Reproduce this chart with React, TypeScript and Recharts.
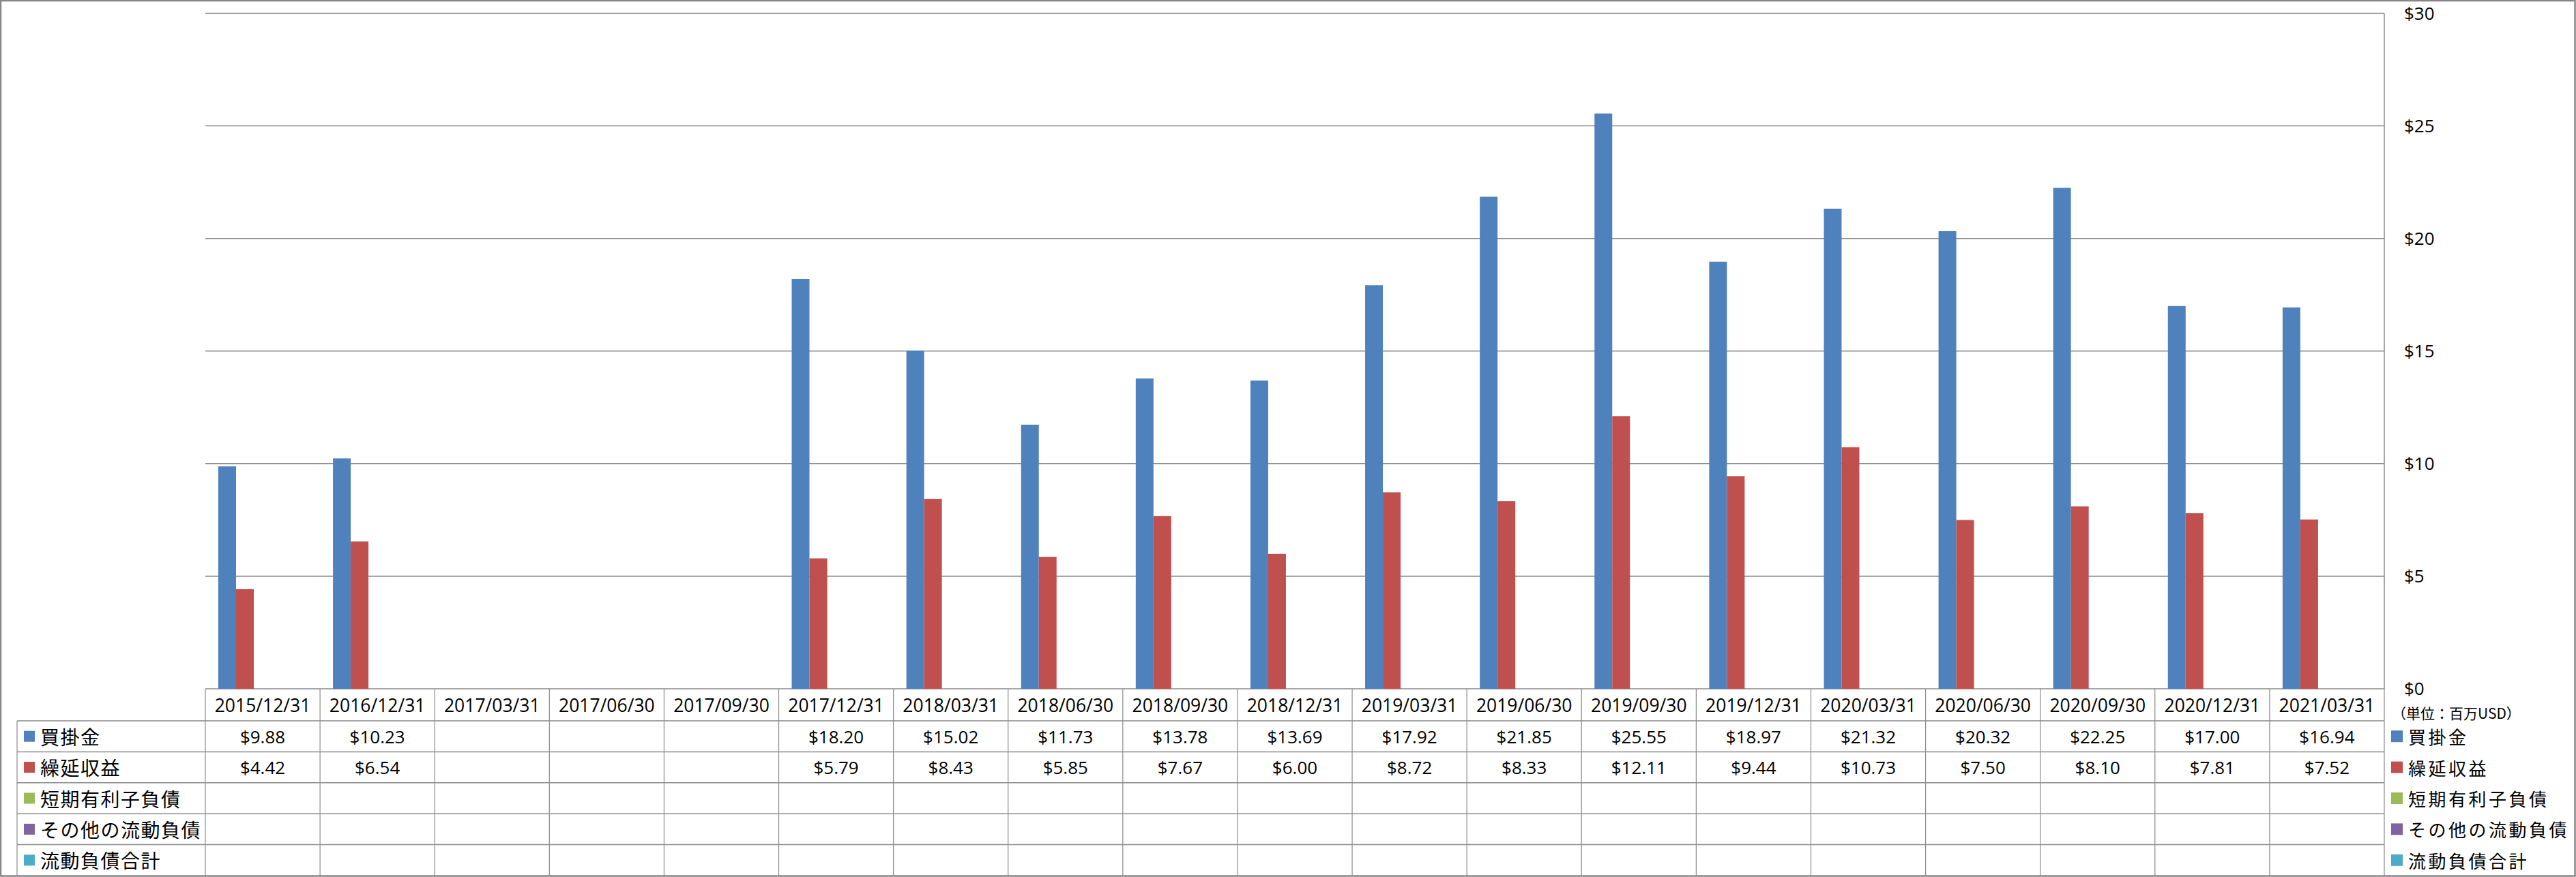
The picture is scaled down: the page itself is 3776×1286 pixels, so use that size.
import React from 'react';
import { BarChart, Bar, XAxis, YAxis, CartesianGrid } from 'recharts';

const categories = [
  '2015/12/31', '2016/12/31', '2017/03/31', '2017/06/30', '2017/09/30',
  '2017/12/31', '2018/03/31', '2018/06/30', '2018/09/30', '2018/12/31',
  '2019/03/31', '2019/06/30', '2019/09/30', '2019/12/31', '2020/03/31',
  '2020/06/30', '2020/09/30', '2020/12/31', '2021/03/31',
];

// 単位：百万USD
const payables: (number | null)[] = [
  9.88, 10.23, null, null, null, 18.2, 15.02, 11.73, 13.78, 13.69,
  17.92, 21.85, 25.55, 18.97, 21.32, 20.32, 22.25, 17.0, 16.94,
];
const deferredRevenue: (number | null)[] = [
  4.42, 6.54, null, null, null, 5.79, 8.43, 5.85, 7.67, 6.0,
  8.72, 8.33, 12.11, 9.44, 10.73, 7.5, 8.1, 7.81, 7.52,
];
const shortTermDebt: (number | null)[] = [
  null, null, null, null, null, null, null, null, null, null,
  null, null, null, null, null, null, null, null, null,
];
const otherCurrent: (number | null)[] = [
  null, null, null, null, null, null, null, null, null, null,
  null, null, null, null, null, null, null, null, null,
];
const totalCurrent: (number | null)[] = [
  null, null, null, null, null, null, null, null, null, null,
  null, null, null, null, null, null, null, null, null,
];

const yTicks = [0, 5, 10, 15, 20, 25, 30];

const series = [
  { key: 'payables', name: '買掛金', color: '#4F81BD', values: payables },
  { key: 'deferred', name: '繰延収益', color: '#C0504D', values: deferredRevenue },
  { key: 'shortDebt', name: '短期有利子負債', color: '#9BBB59', values: shortTermDebt },
  { key: 'otherCur', name: 'その他の流動負債', color: '#8064A2', values: otherCurrent },
  { key: 'totalCur', name: '流動負債合計', color: '#4BACC6', values: totalCurrent },
];

const data = categories.map((date, i) => {
  const row: Record<string, any> = { date };
  series.forEach(s => { row[s.key] = s.values[i]; });
  return row;
});

const W = 3776;
const H = 1286;
const PLOT_LEFT = 301;
const PLOT_RIGHT = 3495;
const PLOT_TOP = 19.5;
const PLOT_BOTTOM = 1010;
const TABLE_BOTTOM = 1284;
const HEADER_H = 47;
const ROW_H = (TABLE_BOTTOM - PLOT_BOTTOM - HEADER_H) / 5;
const COL_W = (PLOT_RIGHT - PLOT_LEFT) / categories.length;
const LINE = '#8a8a8a';
const NUM_FONT = '"Open Sans", "Noto Sans", sans-serif';
const JP_FONT = '"Noto Sans CJK JP", "Noto Sans", sans-serif';

const fmt = (v: number) => `$${v.toFixed(2)}`;

const TableTick = (props: any) => {
  const { x, y, payload } = props;
  const i: number = payload.index;
  const left = x - COL_W / 2;
  return (
    <g>
      <line x1={left} y1={y} x2={left} y2={TABLE_BOTTOM} stroke={LINE} strokeWidth={1.2} />
      {i === categories.length - 1 && (
        <line x1={left + COL_W} y1={y} x2={left + COL_W} y2={TABLE_BOTTOM} stroke={LINE} strokeWidth={1.2} />
      )}
      <text x={x} y={y + HEADER_H / 2} textAnchor="middle" dominantBaseline="central"
        fontFamily={NUM_FONT} fontSize={26.5} fill="#000">
        {payload.value}
      </text>
      {series.map((s, r) => {
        const v = s.values[i];
        if (v == null) return null;
        return (
          <text key={s.key} x={x} y={y + HEADER_H + ROW_H * r + ROW_H / 2}
            textAnchor="middle" dominantBaseline="central"
            fontFamily={NUM_FONT} fontSize={26} fill="#000">
            {fmt(v)}
          </text>
        );
      })}
    </g>
  );
};

const App = () => {
  const rowLines = [0, 1, 2, 3, 4].map(r => PLOT_BOTTOM + HEADER_H + ROW_H * r);
  return (
    <div style={{ position: 'absolute', left: 0, top: 0, width: W, height: H, background: '#fff' }}>
      <BarChart
        width={W}
        height={H}
        data={data}
        margin={{ top: PLOT_TOP, right: 0, bottom: 0, left: PLOT_LEFT }}
        barCategoryGap={19}
        barGap={0}
      >
        <CartesianGrid vertical={false} stroke={LINE} strokeWidth={1.5} />
        <XAxis
          dataKey="date"
          height={H - PLOT_BOTTOM}
          axisLine={false}
          tickLine={false}
          tickSize={0}
          tickMargin={0}
          interval={0}
          tick={<TableTick />}
        />
        <YAxis
          orientation="right"
          width={W - PLOT_RIGHT}
          domain={[0, 30]}
          ticks={yTicks}
          axisLine={{ stroke: LINE, strokeWidth: 1.5 }}
          tickLine={false}
          tickSize={0}
          tickMargin={29}
          tickFormatter={(v: number) => `$${v}`}
          tick={{ fill: '#000', fontSize: 26, fontFamily: NUM_FONT }}
        />
        {series.map(s => (
          <Bar key={s.key} dataKey={s.key} name={s.name} fill={s.color} isAnimationActive={false} />
        ))}
      </BarChart>
      <svg width={W} height={H} style={{ position: 'absolute', left: 0, top: 0, pointerEvents: 'none' }}>
        {rowLines.map((ly, r) => (
          <line key={r} x1={25} y1={ly} x2={PLOT_RIGHT} y2={ly} stroke={LINE} strokeWidth={1.5} />
        ))}
        <line x1={25} y1={rowLines[0]} x2={25} y2={TABLE_BOTTOM} stroke={LINE} strokeWidth={1.2} />
        {series.map((s, r) => {
          const cy = PLOT_BOTTOM + HEADER_H + ROW_H * r + ROW_H / 2;
          return (
            <g key={s.key}>
              <rect x={35} y={cy - 8} width={16} height={16} fill={s.color} />
              <text x={59} y={cy} dominantBaseline="central" fontFamily={JP_FONT}
                fontSize={28} letterSpacing={1.5} fill="#000">{s.name}</text>
              <rect x={3505} y={cy - 8.5} width={17} height={17} fill={s.color} />
              <text x={3530} y={cy} dominantBaseline="central" fontFamily={JP_FONT}
                fontSize={26} letterSpacing={3.5} fill="#000">{s.name}</text>
            </g>
          );
        })}
        <text x={3506} y={1045} dominantBaseline="central" fontFamily={JP_FONT}
          fontSize={21} fill="#000">（単位：百万USD）</text>
        <rect x={1} y={1} width={W - 2.5} height={H - 2.5} fill="none" stroke="#878787" strokeWidth={2.5} />
      </svg>
    </div>
  );
};

export default App;
